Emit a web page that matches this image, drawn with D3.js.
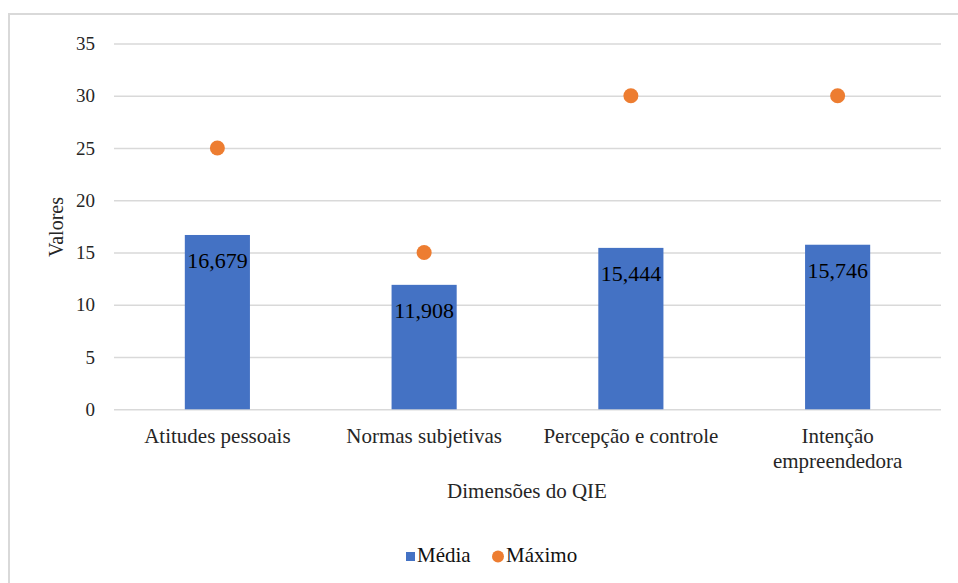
<!DOCTYPE html>
<html>
<head>
<meta charset="utf-8">
<script src="https://cdn.jsdelivr.net/npm/d3@7"></script>
<style>
  body { margin: 0; background: #fff; }
  svg { display: block; }
  svg text { font-family: "Liberation Serif", Tinos, "Times New Roman", Times, "DejaVu Serif", serif !important; fill: #262626; }
</style>
</head>
<body>
<svg id="chart" width="958" height="583"></svg>
<script>
// dados
const categories = ["Atitudes pessoais", "Normas subjetivas", "Percepção e controle", "Intenção\nempreendedora"];
const media = [16.679, 11.908, 15.444, 15.746];
const maximo = [25, 15, 30, 30];
const yTicks = [0, 5, 10, 15, 20, 25, 30, 35];
const seriesNames = ["Média", "Máximo"];

const blue = "#4472C4";
const orange = "#ED7D31";

const svg = d3.select("#chart");

// moldura (só topo e esquerda aparecem)
svg.append("rect")
  .attr("x", 9).attr("y", 14)
  .attr("width", 1000).attr("height", 700)
  .attr("fill", "none")
  .attr("stroke", "#d9d9d9")
  .attr("stroke-width", 2);

const plot = { left: 114, right: 941, top: 43.5, bottom: 409.3 };

// escalas
const x = d3.scaleBand()
  .domain(categories)
  .range([plot.left, plot.right])
  .paddingInner(0.685)
  .paddingOuter(0.3425);

const y = d3.scaleLinear()
  .domain([0, 35])
  .range([plot.bottom, plot.top]);

// grade + eixo y
const yAxis = svg.append("g")
  .attr("transform", `translate(${plot.left},0)`)
  .attr("font-family", null)
  .call(d3.axisLeft(y).tickValues(yTicks).tickSize(-(plot.right - plot.left)).tickPadding(19));
yAxis.select(".domain").remove();
yAxis.selectAll("line").attr("stroke", "#d9d9d9").attr("stroke-width", 1.6);
yAxis.selectAll("text")
  .attr("font-size", 19)
  .attr("fill", "#262626");

// barras
svg.selectAll(".bar")
  .data(categories)
  .enter()
  .append("rect")
  .attr("class", "bar")
  .attr("x", d => x(d))
  .attr("y", (d, i) => y(media[i]))
  .attr("width", x.bandwidth())
  .attr("height", (d, i) => y(0) - y(media[i]))
  .attr("fill", blue);

// rótulos de valor
svg.selectAll(".val")
  .data(categories)
  .enter()
  .append("text")
  .attr("class", "val")
  .attr("x", d => x(d) + x.bandwidth() / 2)
  .attr("y", (d, i) => y(media[i]) + 33)
  .attr("text-anchor", "middle")
  .attr("font-size", 22)
  .style("fill", "#000")
  .text((d, i) => d3.format(".3f")(media[i]).replace(".", ","));

// pontos máximo
svg.selectAll(".dot")
  .data(categories)
  .enter()
  .append("circle")
  .attr("class", "dot")
  .attr("cx", d => x(d) + x.bandwidth() / 2)
  .attr("cy", (d, i) => y(maximo[i]))
  .attr("r", 7.5)
  .attr("fill", orange);

// rótulos das categorias
const catLabels = svg.selectAll(".cat")
  .data(categories)
  .enter()
  .append("text")
  .attr("class", "cat")
  .attr("x", d => x(d) + x.bandwidth() / 2)
  .attr("y", 443)
  .attr("text-anchor", "middle")
  .attr("font-size", 21);
catLabels.each(function(d) {
  d.split("\n").forEach((line, k) => {
    d3.select(this).append("tspan")
      .attr("x", x(d) + x.bandwidth() / 2)
      .attr("dy", k === 0 ? 0 : 25)
      .text(line);
  });
});

// títulos dos eixos
svg.append("text")
  .attr("x", 527).attr("y", 498)
  .attr("text-anchor", "middle")
  .attr("font-size", 21)
  .text("Dimensões do QIE");

svg.append("text")
  .attr("transform", "translate(63,227) rotate(-90)")
  .attr("text-anchor", "middle")
  .attr("font-size", 20)
  .text("Valores");

// legenda
const legend = svg.append("g").attr("transform", "translate(406,562)");
legend.append("rect")
  .attr("x", 0).attr("y", -10)
  .attr("width", 9).attr("height", 9)
  .attr("fill", blue);
legend.append("text")
  .attr("x", 11).attr("y", 0)
  .attr("font-size", 21)
  .style("fill", "#111")
  .text(seriesNames[0]);
legend.append("circle")
  .attr("cx", 92).attr("cy", -5.5)
  .attr("r", 6)
  .attr("fill", orange);
legend.append("text")
  .attr("x", 100).attr("y", 0)
  .attr("font-size", 21)
  .style("fill", "#111")
  .text(seriesNames[1]);
</script>
</body>
</html>
